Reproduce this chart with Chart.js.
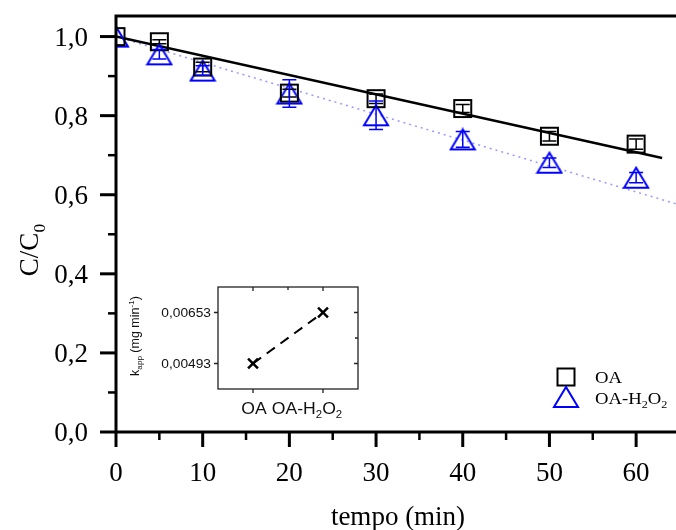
<!DOCTYPE html>
<html>
<head>
<meta charset="utf-8">
<script src="https://cdn.jsdelivr.net/npm/chart.js@4.4.1/dist/chart.umd.min.js"></script>
<style>
  html, body { margin: 0; padding: 0; background: #fff; }
  #wrap { position: relative; width: 676px; height: 530px; }
  #main { position: absolute; left: 0; top: 0; }
  #inset { position: absolute; left: 120px; top: 276px; }
</style>
</head>
<body>
<div id="wrap">
  <canvas id="main" width="676" height="530"></canvas>
  <canvas id="inset" width="250" height="145"></canvas>
</div>
<script>
// sampling times (min)
const times = [0, 5, 10, 20, 30, 40, 50, 60];
// C/C0 for the two runs, with their error bars
const oaValues = [1.0, 0.987, 0.923, 0.857, 0.843, 0.818, 0.748, 0.728];
const oaErrors = [0, 0.005, 0.012, 0.01, 0.012, 0.01, 0.012, 0.013];
const h2o2Values = [1.0, 0.955, 0.914, 0.856, 0.801, 0.740, 0.681, 0.643];
const h2o2Errors = [0, 0.012, 0.012, 0.035, 0.036, 0.02, 0.012, 0.013];
// fitted lines (end points)
const fitOATimes = [0, 63];
const fitOAValues = [1.0, 0.693];
const fitH2O2Times = [0, 64.6];
const fitH2O2Values = [1.0, 0.577];
// axis ticks
const xMajorTicks = [0, 10, 20, 30, 40, 50, 60];
const xMinorTicks = [5, 15, 25, 35, 45, 55];
const yMajorTicks = [0, 0.2, 0.4, 0.6, 0.8, 1.0];
const yMinorTicks = [0.1, 0.3, 0.5, 0.7, 0.9];
// inset: apparent rate constants
const kCategories = ["OA", "OA-H2O2"];
const kValues = [0.00493, 0.00653];
const kTicks = [0.00493, 0.00653];

const SERIF = "'Liberation Serif', 'Times New Roman', serif";
const SANS = "'Liberation Sans', Arial, sans-serif";
// small labels are set a little wide
const WIDE = 1.1;

function toPoints(xs, ys) {
    return xs.map((x, i) => ({ x: x, y: ys[i] }));
}

function comma(v, digits) {
    return v.toFixed(digits).replace(".", ",");
}

// no extra room for overhanging tick labels, the plot box is fixed
function noPadding(scale) {
    scale.paddingTop = 0;
    scale.paddingBottom = 0;
    scale.paddingLeft = 0;
    scale.paddingRight = 0;
}

// marker images
function squareMarker(size, color, lw) {
    const c = document.createElement("canvas");
    c.width = size + lw * 2; c.height = size + lw * 2;
    const g = c.getContext("2d");
    g.strokeStyle = color; g.lineWidth = lw;
    g.strokeRect(lw, lw, size, size);
    return c;
}

function triangleMarker(w, h, color, lw) {
    const c = document.createElement("canvas");
    c.width = w + lw * 2; c.height = h + lw * 2;
    const g = c.getContext("2d");
    g.strokeStyle = color; g.lineWidth = lw; g.lineJoin = "miter";
    g.beginPath();
    g.moveTo(c.width / 2, lw);
    g.lineTo(lw, lw + h);
    g.lineTo(lw + w, lw + h);
    g.closePath();
    g.stroke();
    return c;
}

// text with sub/superscripts: parts = [[text, ""|"sub"|"sup"], ...]
function richWidth(ctx, parts, size, family) {
    let w = 0;
    parts.forEach(([t, m]) => {
        ctx.font = (m ? size * 0.65 : size) + "px " + family;
        w += ctx.measureText(t).width;
    });
    return w;
}

function drawRich(ctx, parts, x, y, size, family, align, sx) {
    sx = sx || 1;
    ctx.save();
    ctx.translate(x, y);
    ctx.scale(sx, 1);
    const total = richWidth(ctx, parts, size, family);
    let cx = align === "center" ? -total / 2 : (align === "right" ? -total : 0);
    ctx.textAlign = "left";
    ctx.textBaseline = "alphabetic";
    parts.forEach(([t, m]) => {
        const s = m ? size * 0.65 : size;
        ctx.font = s + "px " + family;
        const dy = m === "sub" ? size * 0.25 : (m === "sup" ? -size * 0.38 : 0);
        ctx.fillText(t, cx, dy);
        cx += ctx.measureText(t).width;
    });
    ctx.restore();
}

const squareImg = squareMarker(17, "#000", 2);
const triangleImg = triangleMarker(24, 20, "#0000ff", 2);

const errorBars = {
    id: "errorBars",
    afterDatasetsDraw(chart) {
        const { ctx, scales: { x, y } } = chart;
        const sets = [[oaValues, oaErrors, "#000"], [h2o2Values, h2o2Errors, "#0000ff"]];
        ctx.save();
        ctx.lineWidth = 1.5;
        sets.forEach(([vals, errs, color]) => {
            ctx.strokeStyle = color;
            times.forEach((t, i) => {
                if (!errs[i]) return;
                const px = x.getPixelForValue(t);
                const top = y.getPixelForValue(vals[i] + errs[i]);
                const bot = y.getPixelForValue(vals[i] - errs[i]);
                ctx.beginPath();
                ctx.moveTo(px, top); ctx.lineTo(px, bot);
                ctx.moveTo(px - 7, top); ctx.lineTo(px + 7, top);
                ctx.moveTo(px - 7, bot); ctx.lineTo(px + 7, bot);
                ctx.stroke();
            });
        });
        ctx.restore();
    }
};

const mainFrame = {
    id: "mainFrame",
    afterDraw(chart) {
        const { ctx, chartArea: a, scales: { x, y } } = chart;
        ctx.save();
        ctx.strokeStyle = "#000";
        ctx.lineCap = "butt";
        ctx.lineWidth = 3;
        ctx.beginPath();
        ctx.moveTo(a.left, a.top); ctx.lineTo(chart.width, a.top);
        ctx.moveTo(a.left, a.top - 1.5); ctx.lineTo(a.left, a.bottom + 1.5);
        ctx.moveTo(a.left - 1.5, a.bottom); ctx.lineTo(chart.width, a.bottom);
        ctx.stroke();
        // ticks
        xMajorTicks.forEach(v => {
            const px = x.getPixelForValue(v);
            ctx.beginPath(); ctx.moveTo(px, a.bottom); ctx.lineTo(px, a.bottom + 15); ctx.stroke();
        });
        yMajorTicks.forEach(v => {
            const py = y.getPixelForValue(v);
            ctx.beginPath(); ctx.moveTo(a.left, py); ctx.lineTo(a.left - 16, py); ctx.stroke();
        });
        ctx.lineWidth = 2.5;
        xMinorTicks.forEach(v => {
            const px = x.getPixelForValue(v);
            ctx.beginPath(); ctx.moveTo(px, a.bottom); ctx.lineTo(px, a.bottom + 8); ctx.stroke();
        });
        yMinorTicks.forEach(v => {
            const py = y.getPixelForValue(v);
            ctx.beginPath(); ctx.moveTo(a.left, py); ctx.lineTo(a.left - 8, py); ctx.stroke();
        });

        // tick labels
        ctx.fillStyle = "#000";
        xMajorTicks.forEach(v => {
            drawRich(ctx, [[String(v), ""]], x.getPixelForValue(v), a.bottom + 49, 27, SERIF, "center");
        });
        yMajorTicks.forEach(v => {
            drawRich(ctx, [[comma(v, 1), ""]], a.left - 28, y.getPixelForValue(v) + 9, 27, SERIF, "right");
        });

        // axis titles
        drawRich(ctx, [["tempo (min)", ""]], (a.left + 676) / 2 + 2, 525, 27, SERIF, "center");
        ctx.save();
        ctx.translate(38, 250);
        ctx.rotate(-Math.PI / 2);
        drawRich(ctx, [["C/C", ""], ["0", "sub"]], 0, 0, 27, SERIF, "center");
        ctx.restore();

        // legend
        ctx.drawImage(squareImg, 566 - squareImg.width / 2, 377 - squareImg.height / 2);
        ctx.drawImage(triangleImg, 566 - triangleImg.width / 2, 397 - triangleImg.height / 2);
        drawRich(ctx, [["OA", ""]], 595, 383, 17, SERIF, "left", WIDE);
        drawRich(ctx, [["OA-H", ""], ["2", "sub"], ["O", ""], ["2", "sub"]], 595, 404, 17, SERIF, "left", WIDE);
        ctx.restore();
    }
};

new Chart(document.getElementById("main"), {
    type: "scatter",
    data: {
        datasets: [
            {
                label: "OA",
                data: toPoints(times, oaValues),
                pointStyle: squareImg,
                pointRadius: 9,
                clip: 0,
            },
            {
                label: "OA-H2O2",
                data: toPoints(times, h2o2Values),
                pointStyle: triangleImg,
                pointRadius: 11,
                clip: 0,
            },
            {
                label: "fit OA",
                data: toPoints(fitOATimes, fitOAValues),
                showLine: true,
                borderColor: "#000",
                borderWidth: 2.5,
                pointRadius: 0,
                clip: 0,
            },
            {
                label: "fit OA-H2O2",
                data: toPoints(fitH2O2Times, fitH2O2Values),
                showLine: true,
                borderColor: "rgba(70, 70, 255, 0.55)",
                borderWidth: 1.5,
                borderDash: [2, 4],
                pointRadius: 0,
                clip: 0,
            },
        ]
    },
    options: {
        responsive: false,
        animation: false,
        devicePixelRatio: 1,
        layout: { autoPadding: false, padding: { top: 16, right: 0, left: 0, bottom: 0 } },
        plugins: {
            legend: { display: false },
            tooltip: { enabled: false },
        },
        scales: {
            x: {
                type: "linear",
                min: 0,
                max: 64.6,
                afterBuildTicks: (scale) => { scale.ticks = xMajorTicks.map(v => ({ value: v })); },
                afterFit: (scale) => { scale.height = 98; noPadding(scale); },
                grid: { display: false },
                border: { display: false },
                ticks: { display: false },
            },
            y: {
                min: 0,
                max: 1.052,
                afterBuildTicks: (scale) => { scale.ticks = yMajorTicks.map(v => ({ value: v })); },
                afterFit: (scale) => { scale.width = 116; noPadding(scale); },
                grid: { display: false },
                border: { display: false },
                ticks: { display: false },
            },
        },
    },
    plugins: [errorBars, mainFrame],
});

// inset chart
const insetFrame = {
    id: "insetFrame",
    beforeDraw(chart) {
        const { ctx, chartArea: a } = chart;
        ctx.save();
        ctx.fillStyle = "#fff";
        ctx.fillRect(a.left, a.top, a.right - a.left, a.bottom - a.top);
        ctx.restore();
    },
    afterDraw(chart) {
        const { ctx, chartArea: a, scales: { x, y } } = chart;
        ctx.save();
        ctx.strokeStyle = "#222";
        ctx.lineWidth = 1.3;
        ctx.strokeRect(a.left, a.top, a.right - a.left, a.bottom - a.top);
        ctx.beginPath();
        kTicks.forEach(v => {
            const py = y.getPixelForValue(v);
            ctx.moveTo(a.left, py); ctx.lineTo(a.left - 4, py);
            ctx.moveTo(a.right, py); ctx.lineTo(a.right - 4, py);
        });
        const midY = y.getPixelForValue((kTicks[0] + kTicks[1]) / 2);
        ctx.moveTo(a.right, midY); ctx.lineTo(a.right - 3, midY);
        [0, 1].forEach(v => {
            const px = x.getPixelForValue(v);
            ctx.moveTo(px, a.bottom); ctx.lineTo(px, a.bottom + 4);
            ctx.moveTo(px, a.top); ctx.lineTo(px, a.top + 4);
        });
        const midX = x.getPixelForValue(0.5);
        ctx.moveTo(midX, a.top); ctx.lineTo(midX, a.top + 3);
        ctx.stroke();

        ctx.fillStyle = "#111";
        kTicks.forEach(v => {
            drawRich(ctx, [[comma(v, 5), ""]], a.left - 7, y.getPixelForValue(v) + 4.5, 12.5, SANS, "right", WIDE);
        });
        const x0 = x.getPixelForValue(0);
        const x1 = x.getPixelForValue(1);
        drawRich(ctx, [[kCategories[0], ""]], x0 + 1, a.bottom + 25, 16, SANS, "center", WIDE);
        drawRich(ctx, [["OA-H", ""], ["2", "sub"], ["O", ""], ["2", "sub"]], x1 - 16, a.bottom + 25, 16, SANS, "center", WIDE);

        ctx.translate(19, (a.top + a.bottom) / 2 - 2);
        ctx.rotate(-Math.PI / 2);
        drawRich(ctx, [["k", ""], ["app", "sub"], [" (mg min", ""], ["-1", "sup"], [")", ""]], 0, 0, 12.5, SANS, "center");
        ctx.restore();
    }
};

new Chart(document.getElementById("inset"), {
    type: "scatter",
    data: {
        datasets: [{
            label: "kapp",
            data: kValues.map((v, i) => ({ x: i, y: v })),
            showLine: true,
            borderColor: "#000",
            borderWidth: 2,
            borderDash: [10, 7],
            pointStyle: "crossRot",
            pointRadius: 7,
            pointBorderWidth: 2.5,
            pointBorderColor: "#000",
        }]
    },
    options: {
        responsive: false,
        animation: false,
        devicePixelRatio: 1,
        layout: { autoPadding: false, padding: { top: 11, right: 12, left: 0, bottom: 0 } },
        plugins: {
            legend: { display: false },
            tooltip: { enabled: false },
        },
        scales: {
            x: {
                type: "linear",
                min: -0.5,
                max: 1.5,
                afterFit: (scale) => { scale.height = 32; noPadding(scale); },
                grid: { display: false },
                border: { display: false },
                ticks: { display: false },
            },
            y: {
                min: 0.00413,
                max: 0.00733,
                afterBuildTicks: (scale) => { scale.ticks = kTicks.map(v => ({ value: v })); },
                afterFit: (scale) => { scale.width = 98; noPadding(scale); },
                grid: { display: false },
                border: { display: false },
                ticks: { display: false },
            },
        },
    },
    plugins: [insetFrame],
});
</script>
</body>
</html>
